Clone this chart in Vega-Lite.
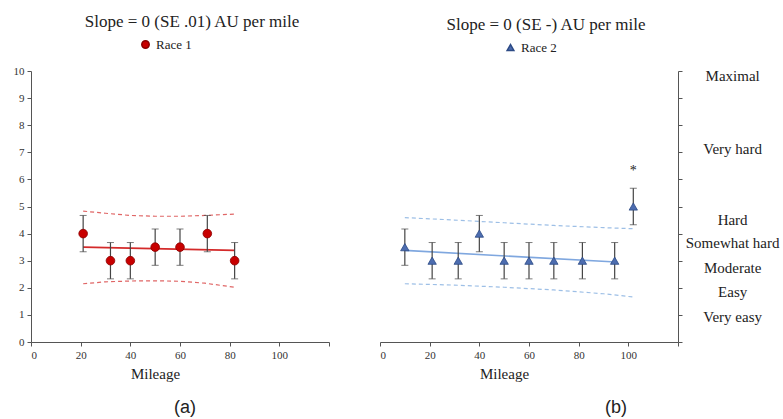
{
  "$schema": "https://vega.github.io/schema/vega-lite/v6.json",
  "padding": {"left": 13, "top": 13, "right": 0, "bottom": 0},
  "background": "white",
  "datasets": {
    "pts1": [
      {"m": 21, "v": 4, "lo": 3.33, "hi": 4.67},
      {"m": 32, "v": 3, "lo": 2.33, "hi": 3.67},
      {"m": 40, "v": 3, "lo": 2.33, "hi": 3.67},
      {"m": 50, "v": 3.5, "lo": 2.83, "hi": 4.17},
      {"m": 60, "v": 3.5, "lo": 2.83, "hi": 4.17},
      {"m": 71, "v": 4, "lo": 3.33, "hi": 4.67},
      {"m": 82, "v": 3, "lo": 2.33, "hi": 3.67}
    ],
    "reg1": [{"m": 21, "v": 3.5}, {"m": 82, "v": 3.38}],
    "band1": [
      {"m": 21, "v": 4.83, "b": "upper"}, {"m": 30, "v": 4.75, "b": "upper"}, {"m": 40, "v": 4.67, "b": "upper"},
      {"m": 50, "v": 4.64, "b": "upper"}, {"m": 60, "v": 4.64, "b": "upper"}, {"m": 70, "v": 4.67, "b": "upper"},
      {"m": 82, "v": 4.72, "b": "upper"},
      {"m": 21, "v": 2.15, "b": "lower"}, {"m": 30, "v": 2.22, "b": "lower"}, {"m": 40, "v": 2.25, "b": "lower"},
      {"m": 50, "v": 2.26, "b": "lower"}, {"m": 60, "v": 2.24, "b": "lower"}, {"m": 70, "v": 2.17, "b": "lower"},
      {"m": 82, "v": 2.02, "b": "lower"}
    ],
    "pts2": [
      {"m": 10, "v": 3.5, "lo": 2.83, "hi": 4.17},
      {"m": 21, "v": 3, "lo": 2.33, "hi": 3.67},
      {"m": 31.5, "v": 3, "lo": 2.33, "hi": 3.67},
      {"m": 40, "v": 4, "lo": 3.33, "hi": 4.67},
      {"m": 50, "v": 3, "lo": 2.33, "hi": 3.67},
      {"m": 60, "v": 3, "lo": 2.33, "hi": 3.67},
      {"m": 70, "v": 3, "lo": 2.33, "hi": 3.67},
      {"m": 81.5, "v": 3, "lo": 2.33, "hi": 3.67},
      {"m": 94.5, "v": 3, "lo": 2.33, "hi": 3.67},
      {"m": 102, "v": 5, "lo": 4.33, "hi": 5.67}
    ],
    "reg2": [{"m": 10, "v": 3.38}, {"m": 95, "v": 2.95}],
    "band2": [
      {"m": 10, "v": 4.59, "b": "upper"}, {"m": 30, "v": 4.5, "b": "upper"}, {"m": 50, "v": 4.4, "b": "upper"},
      {"m": 70, "v": 4.3, "b": "upper"}, {"m": 90, "v": 4.22, "b": "upper"}, {"m": 102, "v": 4.18, "b": "upper"},
      {"m": 10, "v": 2.15, "b": "lower"}, {"m": 30, "v": 2.1, "b": "lower"}, {"m": 50, "v": 2.02, "b": "lower"},
      {"m": 70, "v": 1.92, "b": "lower"}, {"m": 90, "v": 1.78, "b": "lower"}, {"m": 102, "v": 1.66, "b": "lower"}
    ],
    "star": [{"m": 102, "v": 6.3, "t": "*"}],
    "rpe": [
      {"label": "Maximal", "v": 9.8},
      {"label": "Very hard", "v": 7.12},
      {"label": "Hard", "v": 4.5},
      {"label": "Somewhat hard", "v": 3.65},
      {"label": "Moderate", "v": 2.73},
      {"label": "Easy", "v": 1.85},
      {"label": "Very easy", "v": 0.92}
    ],
    "capA": [{"t": "(a)"}],
    "capB": [{"t": "(b)"}]
  },
  "hconcat": [
    {
      "width": 298,
      "height": 271,
      "title": {"text": "Slope = 0 (SE .01) AU per mile", "dx": 12},
      "layer": [
        {
          "data": {"name": "band1"},
          "mark": {"type": "line", "color": "#e06666", "strokeDash": [4, 3], "strokeWidth": 1.2},
          "encoding": {
            "x": {"field": "m", "type": "quantitative", "scale": {"domain": [0, 120], "nice": false},
              "axis": {"values": [0, 20, 40, 60, 80, 100, 120], "labelExpr": "datum.value == 120 ? '' : datum.label", "title": "Mileage", "titleX": 124}},
            "y": {"field": "v", "type": "quantitative", "scale": {"domain": [0, 10], "nice": false},
              "axis": {"values": [0, 1, 2, 3, 4, 5, 6, 7, 8, 9, 10], "title": null}},
            "detail": {"field": "b"}
          }
        },
        {
          "data": {"name": "reg1"},
          "mark": {"type": "line", "color": "#d42a2a", "strokeWidth": 1.6},
          "encoding": {
            "x": {"field": "m", "type": "quantitative", "scale": {"domain": [0, 120], "nice": false},
              "axis": {"values": [0, 20, 40, 60, 80, 100, 120], "labelExpr": "datum.value == 120 ? '' : datum.label", "title": "Mileage", "titleX": 124}},
            "y": {"field": "v", "type": "quantitative", "scale": {"domain": [0, 10], "nice": false},
              "axis": {"values": [0, 1, 2, 3, 4, 5, 6, 7, 8, 9, 10], "title": null}}
          }
        },
        {
          "data": {"name": "pts1"},
          "mark": {"type": "errorbar", "color": "#444444", "ticks": {"size": 7}, "rule": {"strokeWidth": 1.2}},
          "encoding": {
            "x": {"field": "m", "type": "quantitative", "scale": {"domain": [0, 120], "nice": false},
              "axis": {"values": [0, 20, 40, 60, 80, 100, 120], "labelExpr": "datum.value == 120 ? '' : datum.label", "title": "Mileage", "titleX": 124}},
            "y": {"field": "lo", "type": "quantitative", "scale": {"domain": [0, 10], "nice": false},
              "axis": {"values": [0, 1, 2, 3, 4, 5, 6, 7, 8, 9, 10], "title": null}},
            "y2": {"field": "hi"}
          }
        },
        {
          "data": {"name": "pts1"},
          "mark": {"type": "point", "filled": true, "shape": "circle", "size": 75, "opacity": 1, "stroke": "#8a0000", "strokeWidth": 0.8},
          "encoding": {
            "x": {"field": "m", "type": "quantitative", "scale": {"domain": [0, 120], "nice": false},
              "axis": {"values": [0, 20, 40, 60, 80, 100, 120], "labelExpr": "datum.value == 120 ? '' : datum.label", "title": "Mileage", "titleX": 124}},
            "y": {"field": "v", "type": "quantitative", "scale": {"domain": [0, 10], "nice": false},
              "axis": {"values": [0, 1, 2, 3, 4, 5, 6, 7, 8, 9, 10], "title": null}},
            "color": {"datum": "Race 1", "scale": {"domain": ["Race 1"], "range": ["#c80000"]},
              "legend": {"orient": "none", "legendX": 108, "legendY": -33, "title": null, "symbolSize": 55, "symbolType": "circle"}}
          }
        },
        {
          "data": {"name": "capA"},
          "mark": {"type": "text", "fontSize": 18, "font": "Liberation Sans", "color": "#222222", "baseline": "middle"},
          "encoding": {
            "x": {"datum": 62, "type": "quantitative", "scale": {"domain": [0, 120], "nice": false},
              "axis": {"values": [0, 20, 40, 60, 80, 100, 120], "labelExpr": "datum.value == 120 ? '' : datum.label", "title": "Mileage", "titleX": 124}},
            "y": {"datum": -2.45, "type": "quantitative", "scale": {"domain": [0, 10], "nice": false},
              "axis": {"values": [0, 1, 2, 3, 4, 5, 6, 7, 8, 9, 10], "title": null}},
            "text": {"field": "t"}
          }
        }
      ]
    },
    {
      "width": 298,
      "height": 271,
      "title": {"text": "Slope = 0 (SE -) AU per mile", "dx": 17},
      "layer": [
        {
          "data": {"name": "band2"},
          "mark": {"type": "line", "color": "#9dbfe6", "strokeDash": [4, 3], "strokeWidth": 1.2},
          "encoding": {
            "x": {"field": "m", "type": "quantitative", "scale": {"domain": [0, 120], "nice": false},
              "axis": {"values": [0, 20, 40, 60, 80, 100, 120], "labelExpr": "datum.value == 120 ? '' : datum.label", "title": "Mileage", "titleX": 124}},
            "y": {"field": "v", "type": "quantitative", "scale": {"domain": [0, 10], "nice": false},
              "axis": {"orient": "right", "values": [0, 1, 2, 3, 4, 5, 6, 7, 8, 9, 10], "labels": false, "title": null}},
            "detail": {"field": "b"}
          }
        },
        {
          "data": {"name": "reg2"},
          "mark": {"type": "line", "color": "#7fa7df", "strokeWidth": 1.6},
          "encoding": {
            "x": {"field": "m", "type": "quantitative", "scale": {"domain": [0, 120], "nice": false},
              "axis": {"values": [0, 20, 40, 60, 80, 100, 120], "labelExpr": "datum.value == 120 ? '' : datum.label", "title": "Mileage", "titleX": 124}},
            "y": {"field": "v", "type": "quantitative", "scale": {"domain": [0, 10], "nice": false},
              "axis": {"orient": "right", "values": [0, 1, 2, 3, 4, 5, 6, 7, 8, 9, 10], "labels": false, "title": null}}
          }
        },
        {
          "data": {"name": "pts2"},
          "mark": {"type": "errorbar", "color": "#444444", "ticks": {"size": 7}, "rule": {"strokeWidth": 1.2}},
          "encoding": {
            "x": {"field": "m", "type": "quantitative", "scale": {"domain": [0, 120], "nice": false},
              "axis": {"values": [0, 20, 40, 60, 80, 100, 120], "labelExpr": "datum.value == 120 ? '' : datum.label", "title": "Mileage", "titleX": 124}},
            "y": {"field": "lo", "type": "quantitative", "scale": {"domain": [0, 10], "nice": false},
              "axis": {"orient": "right", "values": [0, 1, 2, 3, 4, 5, 6, 7, 8, 9, 10], "labels": false, "title": null}},
            "y2": {"field": "hi"}
          }
        },
        {
          "data": {"name": "pts2"},
          "mark": {"type": "point", "filled": true, "size": 70, "opacity": 1, "stroke": "#2c4a85", "strokeWidth": 0.8},
          "encoding": {
            "x": {"field": "m", "type": "quantitative", "scale": {"domain": [0, 120], "nice": false},
              "axis": {"values": [0, 20, 40, 60, 80, 100, 120], "labelExpr": "datum.value == 120 ? '' : datum.label", "title": "Mileage", "titleX": 124}},
            "y": {"field": "v", "type": "quantitative", "scale": {"domain": [0, 10], "nice": false},
              "axis": {"orient": "right", "values": [0, 1, 2, 3, 4, 5, 6, 7, 8, 9, 10], "labels": false, "title": null}},
            "color": {"datum": "Race 2", "scale": {"domain": ["Race 2"], "range": ["#4d6db0"]},
              "legend": {"orient": "none", "legendX": 124, "legendY": -30, "title": null, "symbolSize": 45}},
            "shape": {"datum": "Race 2", "scale": {"domain": ["Race 2"], "range": ["triangle-up"]}}
          }
        },
        {
          "data": {"name": "star"},
          "mark": {"type": "text", "fontSize": 14, "font": "Liberation Serif", "color": "#222222", "baseline": "middle"},
          "encoding": {
            "x": {"field": "m", "type": "quantitative", "scale": {"domain": [0, 120], "nice": false},
              "axis": {"values": [0, 20, 40, 60, 80, 100, 120], "labelExpr": "datum.value == 120 ? '' : datum.label", "title": "Mileage", "titleX": 124}},
            "y": {"field": "v", "type": "quantitative", "scale": {"domain": [0, 10], "nice": false},
              "axis": {"orient": "right", "values": [0, 1, 2, 3, 4, 5, 6, 7, 8, 9, 10], "labels": false, "title": null}},
            "text": {"field": "t"}
          }
        },
        {
          "data": {"name": "rpe"},
          "mark": {"type": "text", "fontSize": 15, "font": "Liberation Serif", "color": "#222222", "align": "center", "baseline": "middle"},
          "encoding": {
            "x": {"datum": 142, "type": "quantitative", "scale": {"domain": [0, 120], "nice": false},
              "axis": {"values": [0, 20, 40, 60, 80, 100, 120], "labelExpr": "datum.value == 120 ? '' : datum.label", "title": "Mileage", "titleX": 124}},
            "y": {"field": "v", "type": "quantitative", "scale": {"domain": [0, 10], "nice": false},
              "axis": {"orient": "right", "values": [0, 1, 2, 3, 4, 5, 6, 7, 8, 9, 10], "labels": false, "title": null}},
            "text": {"field": "label"}
          }
        },
        {
          "data": {"name": "capB"},
          "mark": {"type": "text", "fontSize": 18, "font": "Liberation Sans", "color": "#222222", "baseline": "middle"},
          "encoding": {
            "x": {"datum": 95, "type": "quantitative", "scale": {"domain": [0, 120], "nice": false},
              "axis": {"values": [0, 20, 40, 60, 80, 100, 120], "labelExpr": "datum.value == 120 ? '' : datum.label", "title": "Mileage", "titleX": 124}},
            "y": {"datum": -2.45, "type": "quantitative", "scale": {"domain": [0, 10], "nice": false},
              "axis": {"orient": "right", "values": [0, 1, 2, 3, 4, 5, 6, 7, 8, 9, 10], "labels": false, "title": null}},
            "text": {"field": "t"}
          }
        }
      ]
    }
  ],
  "spacing": 51,
  "bounds": "flush",
  "resolve": {"scale": {"color": "independent", "shape": "independent"}, "legend": {"color": "independent", "shape": "independent"}},
  "config": {
    "view": {"stroke": null},
    "title": {"font": "Liberation Serif", "fontSize": 17, "fontWeight": "normal", "color": "#222222", "offset": 7},
    "axis": {
      "grid": false,
      "domainColor": "#555555",
      "tickColor": "#555555",
      "tickSize": 4,
      "labelFont": "Liberation Serif",
      "labelFontSize": 11,
      "labelColor": "#333333",
      "labelPadding": 3,
      "titleFont": "Liberation Serif",
      "titleFontSize": 15,
      "titleFontWeight": "normal",
      "titleColor": "#222222",
      "titlePadding": 6
    },
    "legend": {"labelFont": "Liberation Serif", "labelFontSize": 13, "labelColor": "#222222"}
  }
}
